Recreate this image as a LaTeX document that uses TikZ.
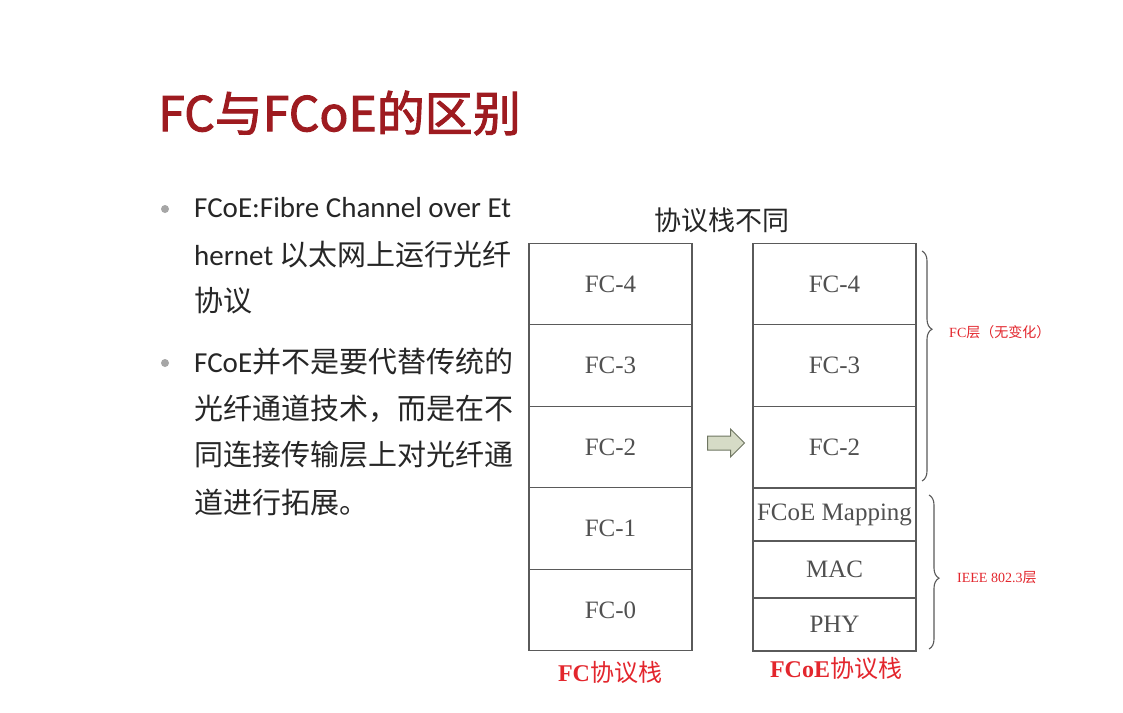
\documentclass[tikz,border=0pt]{standalone}
\usepackage{fontspec}
\setmainfont{Noto Sans CJK SC}
\newfontfamily\cjk{Noto Sans CJK SC}
\newfontfamily\titlefont[FakeBold=2]{Noto Sans CJK SC}
\newfontfamily\latin{Carlito}
\newfontfamily\serifen{Liberation Serif}
\usetikzlibrary{shapes.arrows,decorations.pathreplacing}
\definecolor{titlered}{HTML}{9E1B20}
\definecolor{labred}{HTML}{E3262D}
\definecolor{boxline}{HTML}{5A5A5A}
\definecolor{boxtext}{HTML}{505050}
\definecolor{bodytext}{HTML}{262626}
\definecolor{arrowfill}{HTML}{D6DBC6}
\definecolor{arrowline}{HTML}{6F7662}
\tikzset{
  layer/.style={draw=boxline, line width=1.2pt, rectangle, inner sep=0pt,
    minimum width=163pt, text=boxtext, font=\serifen\fontsize{25}{25}\selectfont},
  bodyline/.style={anchor=west, inner sep=0pt, text=bodytext,
    font=\cjk\fontsize{29}{29}\selectfont},
  stacklabel/.style={text=labred, inner sep=0pt, font=\fontsize{24}{24}\selectfont},
  bracelabel/.style={anchor=west, inner sep=0pt, text=labred, font=\fontsize{14}{14}\selectfont},
  bullet/.style={circle, fill=gray!70, inner sep=0pt, minimum size=8pt},
  layerbrace/.style={draw=boxline, line width=1.1pt,
    decorate, decoration={brace, amplitude=10pt}},
}
\begin{document}
\begin{tikzpicture}[x=1pt, y=-1pt]
\useasboundingbox (0,0) rectangle (1123,712);
\fill[white] (0,0) rectangle (1123,712);

% title
\node[anchor=west, inner sep=0pt, text=titlered, font=\titlefont\fontsize{48}{48}\selectfont]
  (title) at (158,113) {FC与FCoE的区别};

% bullet list
\node[bullet] (b1) at (165,209) {};
\node[bodyline] (l1) at (194,208) {\latin FCoE:Fibre Channel over Et};
\node[bodyline] (l2) at (194,255) {{\latin hernet} 以太网上运行光纤};
\node[bodyline] (l3) at (194,301) {协议};
\node[bullet] (b2) at (165,363) {};
\node[bodyline] (l4) at (194,362) {{\latin FCoE}并不是要代替传统的};
\node[bodyline] (l5) at (194,409) {光纤通道技术，而是在不};
\node[bodyline] (l6) at (194,455) {同连接传输层上对光纤通};
\node[bodyline] (l7) at (194,502) {道进行拓展。};

% heading over the two stacks
\node[inner sep=0pt, text=bodytext, font=\cjk\fontsize{27}{27}\selectfont]
  (head) at (722,220) {协议栈不同};

% FC protocol stack
\node[layer, minimum height=81.6pt] (a4) at (610.5,284)   {FC-4};
\node[layer, minimum height=81.6pt] (a3) at (610.5,365.5) {FC-3};
\node[layer, minimum height=81.6pt] (a2) at (610.5,447)   {FC-2};
\node[layer, minimum height=81.6pt] (a1) at (610.5,528.5) {FC-1};
\node[layer, minimum height=81.6pt] (a0) at (610.5,610)   {FC-0};

% FCoE protocol stack
\node[layer, minimum height=81.6pt] (c4) at (834.5,284)   {FC-4};
\node[layer, minimum height=81.6pt] (c3) at (834.5,365.5) {FC-3};
\node[layer, minimum height=81.6pt] (c2) at (834.5,447)   {FC-2};
\node[layer, minimum height=53pt]   (cm) at (834.5,514.5) {FCoE Mapping};
\node[layer, minimum height=57pt]   (cmac) at (834.5,569.5) {MAC};
\node[layer, minimum height=53pt]   (cphy) at (834.5,624.5) {PHY};

% stack captions
\node[stacklabel] (capa) at (610,672) {{\serifen\bfseries FC}协议栈};
\node[stacklabel] (capc) at (836,668) {{\serifen\bfseries FCoE}协议栈};

% arrow between the stacks
\node[single arrow, draw=arrowline, fill=arrowfill, line width=1pt,
  minimum width=27pt, minimum height=37pt, single arrow head extend=7pt,
  inner xsep=0pt, inner ysep=6.5pt] (arr) at (722.5,443) {};

% braces
\coordinate (br1t) at (922,251);
\coordinate (br1b) at (922,481);
\draw[layerbrace, decoration={aspect=0.34}] (br1t) -- (br1b);
\node[bracelabel] (fcl) at (949,332) {{\serifen FC}层（无变化）};

\coordinate (br2t) at (929,495);
\coordinate (br2b) at (929,649);
\draw[layerbrace, decoration={aspect=0.54}] (br2t) -- (br2b);
\node[bracelabel] (iel) at (957,578) {{\serifen IEEE 802.3}层};
\end{tikzpicture}
\end{document}
